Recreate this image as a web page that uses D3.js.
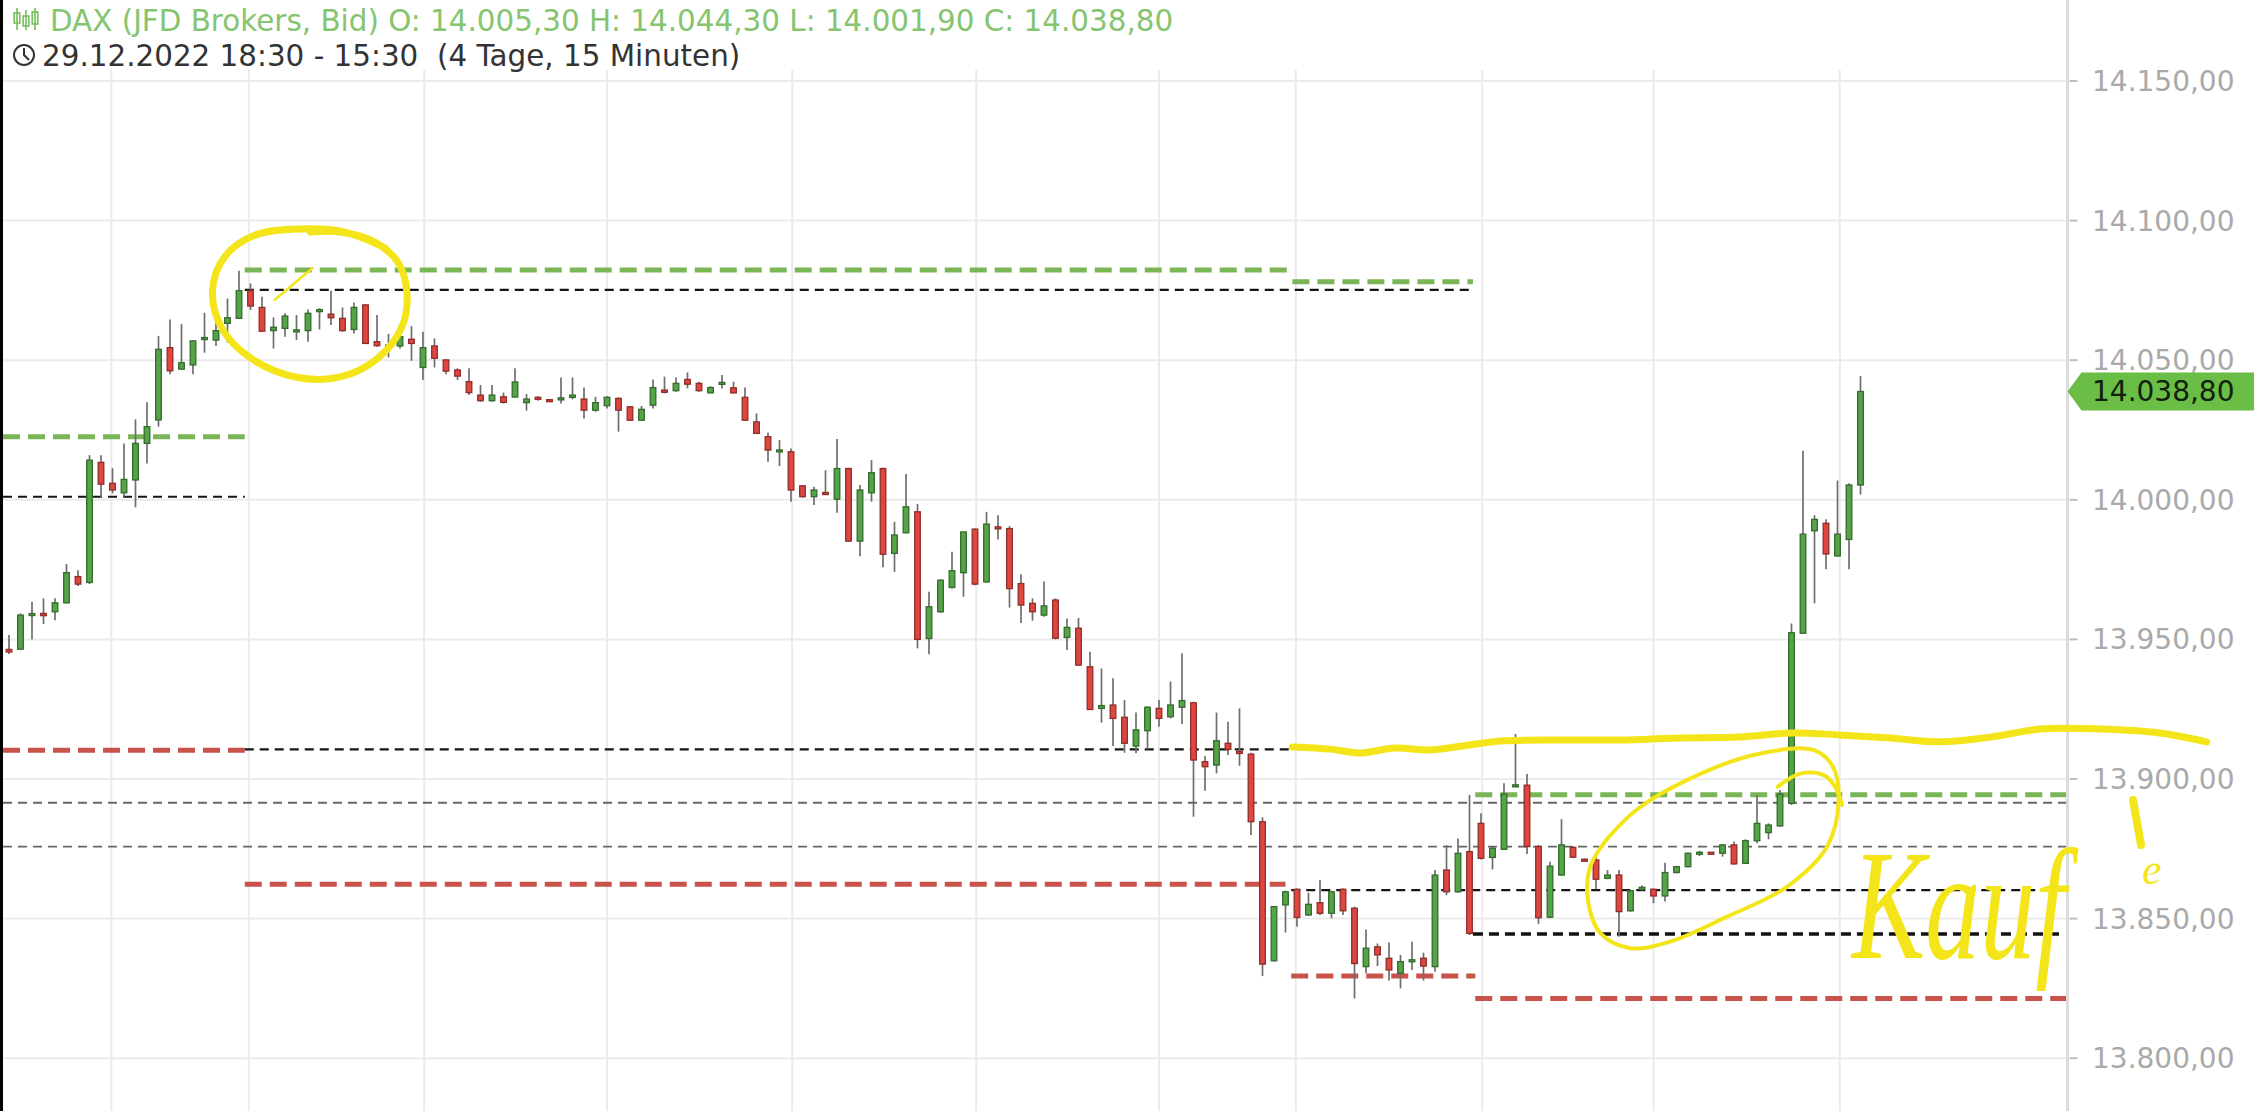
<!DOCTYPE html>
<html><head><meta charset="utf-8">
<script src="https://cdn.jsdelivr.net/npm/d3@7"></script>
<style>html,body{margin:0;padding:0;background:#fff;overflow:hidden}</style>
</head><body>
<svg id="c" width="2254" height="1111"></svg>
<script>
// ---------- data ----------
const opens=[13946.4,13946.5,13958.6,13959.3,13959.9,13963.1,13972.5,13970.4,14013.4,14005.9,14002.5,14007.1,14020.2,14028.6,14054.5,14046.8,14048.3,14057.6,14057.2,14063.2,14065.0,14074.9,14068.9,14060.6,14061.4,14060.4,14060.6,14067.5,14066.5,14065.0,14061.0,14069.8,14056.6,14054.2,14055.1,14057.5,14047.4,14055.1,14050.1,14046.5,14042.3,14037.5,14035.5,14036.9,14036.8,14034.8,14036.7,14035.6,14036.1,14036.7,14036.1,14032.1,14033.7,14036.3,14033.3,14028.5,14033.9,14039.3,14039.1,14043.1,14041.7,14038.3,14041.6,14040.1,14036.7,14027.9,14022.6,14017.2,14017.2,14005.0,14001.1,14002.6,14000.2,14011.2,13985.2,14002.5,14011.2,13980.8,13988.2,13995.7,13950.3,13959.9,13968.6,13973.9,13989.5,13970.6,13990.3,13989.7,13970.0,13962.9,13958.7,13964.1,13950.7,13954.0,13940.2,13925.3,13926.5,13922.1,13911.8,13917.3,13925.3,13922.3,13925.7,13927.3,13906.2,13905.0,13912.8,13909.8,13908.9,13884.7,13834.9,13854.9,13860.5,13851.3,13855.7,13851.9,13860.5,13853.7,13832.8,13839.9,13835.8,13830.4,13834.6,13835.8,13832.8,13867.4,13859.6,13874.0,13884.1,13871.9,13874.8,13897.5,13897.8,13875.8,13850.5,13865.6,13875.5,13871.2,13871.0,13864.4,13865.6,13852.8,13860.7,13860.5,13858.1,13866.5,13868.6,13873.3,13873.5,13873.4,13876.4,13869.8,13877.9,13880.8,13883.2,13891.3,13952.2,13988.9,13991.6,13979.9,13985.8,14005.3];
const highs=[13951.6,13959.3,13963.5,13964.7,13964.7,13977.0,13974.8,14016.0,14016.0,14011.3,14020.2,14028.8,14034.9,14058.7,14064.6,14063.0,14057.2,14067.0,14066.2,14072.1,14082.0,14077.5,14072.7,14065.3,14066.8,14066.2,14068.2,14068.6,14074.9,14068.9,14070.7,14070.1,14066.2,14059.4,14062.0,14062.2,14060.2,14057.8,14050.3,14047.1,14047.1,14041.1,14041.1,14038.4,14047.1,14037.9,14037.1,14035.9,14043.8,14043.8,14040.2,14036.9,14037.1,14036.7,14033.6,14033.6,14043.1,14044.1,14043.8,14045.6,14042.3,14040.7,14044.7,14042.3,14040.2,14030.9,14024.1,14021.4,14018.4,14005.3,14004.7,14010.6,14021.8,14011.5,14005.3,14014.2,14011.5,13992.1,14009.2,13998.5,13967.1,13971.5,13981.4,13988.5,13989.7,13995.7,13994.5,13990.6,13973.3,13964.7,13970.7,13964.7,13957.5,13957.7,13945.6,13939.6,13936.1,13928.3,13923.8,13926.1,13928.3,13934.9,13945.0,13927.7,13908.2,13923.8,13920.5,13925.3,13909.4,13886.3,13854.5,13860.0,13860.8,13859.3,13863.8,13860.0,13860.8,13854.3,13846.1,13841.1,13841.4,13837.0,13841.7,13837.8,13867.4,13876.3,13878.7,13894.3,13887.7,13875.8,13898.5,13916.1,13901.8,13876.4,13870.4,13885.6,13876.0,13871.6,13872.4,13867.4,13867.4,13860.3,13861.9,13860.8,13870.0,13868.9,13873.6,13874.3,13873.8,13876.7,13877.6,13878.4,13894.3,13884.1,13896.1,13955.7,14017.6,13994.5,13993.0,14006.9,14005.9,14044.3];
const lows=[13944.8,13946.2,13950.0,13955.5,13956.9,13962.9,13969.1,13969.8,14000.9,14002.3,14001.1,13997.3,14013.0,14026.2,14045.0,14046.7,14045.0,14052.7,14055.1,14056.3,14065.0,14068.0,14060.2,14054.2,14058.4,14057.2,14056.6,14061.0,14062.6,14060.2,14059.6,14055.8,14054.8,14051.0,14054.2,14049.8,14042.9,14047.4,14045.0,14042.9,14037.5,14035.1,14035.1,14034.5,14036.7,14031.9,14035.5,14035.1,14034.5,14036.0,14029.1,14031.5,14032.7,14024.4,14028.3,14028.3,14032.7,14038.1,14038.7,14039.9,14038.7,14038.1,14039.9,14038.1,14028.3,14023.5,14013.6,14012.1,13999.3,14000.8,13998.1,14001.7,13995.4,13985.0,13979.8,13999.3,13975.8,13974.2,13988.0,13946.8,13944.7,13959.5,13968.2,13965.3,13969.4,13970.3,13985.8,13961.4,13955.9,13956.7,13958.1,13950.0,13946.2,13940.5,13924.7,13920.2,13911.8,13909.4,13909.2,13910.6,13918.7,13921.7,13919.7,13886.5,13895.8,13902.0,13908.6,13904.7,13879.9,13829.4,13834.6,13845.0,13847.1,13850.9,13851.3,13850.1,13851.3,13821.4,13830.4,13833.0,13827.8,13825.0,13831.6,13827.8,13831.0,13858.4,13859.3,13844.1,13871.2,13867.6,13874.6,13897.0,13873.1,13848.1,13850.1,13865.4,13871.6,13870.3,13860.5,13864.1,13843.5,13852.5,13860.0,13855.5,13856.1,13866.2,13868.4,13872.4,13872.9,13872.2,13869.3,13869.6,13877.0,13878.4,13882.9,13890.7,13951.9,13962.9,13975.1,13979.6,13975.1,14001.9];
const closes=[13945.5,13958.7,13959.2,13958.5,13963.1,13973.9,13969.8,14014.2,14005.6,14003.5,14007.3,14020.2,14026.2,14053.9,14046.2,14049.1,14056.9,14057.9,14060.6,14065.2,14074.9,14069.4,14060.4,14061.8,14065.8,14060.6,14066.8,14068.0,14065.2,14060.6,14068.9,14056.0,14055.2,14055.4,14058.4,14056.0,14054.5,14050.7,14046.1,14044.3,14038.4,14035.5,14037.5,14034.9,14042.2,14036.1,14036.0,14035.4,14036.2,14037.5,14032.1,14034.8,14036.7,14032.1,14028.5,14032.4,14040.2,14038.5,14041.7,14041.4,14039.1,14040.2,14041.8,14038.3,14028.5,14023.8,14017.8,14017.8,14003.5,14001.1,14003.5,14001.9,14011.2,13985.2,14003.5,14009.7,13980.5,13987.4,13997.5,13950.0,13961.7,13971.2,13974.6,13988.5,13969.8,13991.3,13989.6,13968.2,13962.3,13959.9,13962.0,13950.4,13954.3,13940.8,13924.9,13926.3,13921.7,13912.8,13917.6,13925.7,13921.7,13926.5,13928.1,13906.8,13904.4,13913.7,13910.6,13909.2,13884.7,13833.7,13854.3,13859.6,13850.4,13855.1,13851.9,13859.6,13852.8,13833.9,13839.4,13837.0,13831.6,13834.6,13835.2,13833.0,13865.6,13859.6,13873.4,13844.7,13871.6,13875.2,13894.6,13897.6,13875.8,13850.3,13868.8,13876.4,13872.0,13870.6,13864.1,13865.6,13852.5,13860.0,13861.0,13858.1,13866.5,13868.6,13873.4,13873.5,13873.3,13876.4,13869.6,13877.9,13884.1,13883.5,13894.6,13952.4,13987.7,13993.0,13980.6,13987.7,14005.3,14038.8];

const yTicks=[13800,13850,13900,13950,14000,14050,14100,14150];
const yTickLabels=["13.800,00","13.850,00","13.900,00","13.950,00","14.000,00","14.050,00","14.100,00","14.150,00"];
const timeGrid=[8.9,20.85,36.1,52,68.1,84.1,100,111.9,128.1,143,159.2];

// horizontal levels: price, from (candle index), to (candle index), kind
const levelPrices=[14022.6,14001.1,14082.3,14078.1,14075.2,13910.3,13910.6,13891.5,13875.8,13862.3,13894.4,13860.2,13844.5,13829.4,13821.4];
const levelFrom=[-0.52,-0.52,20.5,111.6,20.5,-0.52,20.5,-0.52,-0.52,20.5,127.5,111.5,127.3,111.5,127.5];
const levelTo=[20.5,20.5,111.4,127.3,127.3,20.5,111.5,179,179,111.0,179,178.2,178.5,127.5,179];
const levelKind=["green","black","green","green","black","red","black","grey","grey","red","green","black","blackThick","red","red"];

const lastPrice=14038.8, lastLabel="14.038,80";
const titleText="DAX (JFD Brokers, Bid) O: 14.005,30 H: 14.044,30 L: 14.001,90 C: 14.038,80";
const subText="29.12.2022 18:30 - 15:30  (4 Tage, 15 Minuten)";

// hand-drawn annotations in (candle index, price)
const circleTop=[[32.7,14090.2],[29.2,14095.9],[25.3,14097.0],[21.4,14094.8],[18.8,14087.3],[17.7,14075.1],[18.5,14061.5],[21.0,14050.8],[24.9,14044.0],[28.8,14044.0],[32.1,14050.8],[34.2,14062.3],[34.6,14074.4],[33.8,14085.2],[31.8,14092.3],[28.8,14095.9],[26.2,14095.9]];
const circleTail=[[26.4,14083.0],[24.8,14077.5],[23.1,14071.6]];
const wavyLine=[[111.6,13911.5],[114.9,13910.7],[117.5,13909.3],[120.5,13911.1],[123.6,13910.4],[127.0,13912.2],[129.7,13913.6],[134.9,13914.0],[140.1,13914.0],[145.3,13914.7],[150.5,13915.0],[155.0,13916.5],[159.2,13915.8],[163.6,13914.7],[167.9,13913.3],[172.3,13915.0],[176.6,13917.9],[181.8,13917.9],[187.0,13916.5],[191.1,13913.3]];
const ovalLoop=[[138.9,13878.2],[141.5,13888.9],[145.9,13899.6],[151.7,13908.6],[156.9,13910.4],[158.6,13904.4],[159.1,13892.5],[158.1,13875.8],[154.6,13861.4],[149.4,13850.7],[144.4,13841.7],[141.0,13839.4],[138.4,13844.7],[137.3,13856.7],[137.5,13868.6],[138.9,13878.2]];
const ovalHook=[[153.8,13897.2],[155.8,13902.0],[157.8,13901.4],[158.8,13897.2],[159.4,13890.7]];
const noteWord="Kauf", noteE="e";

// ---------- drawing ----------
const W=2254,H=1111;
const svg=d3.select("#c");
const x=d3.scaleLinear().domain([0,161]).range([9,9+161*11.5]);
const y=d3.scaleLinear().domain([13800,14150]).range([1058.2,81]);
const axisX=x(179);

svg.append("rect").attr("width",W).attr("height",H).attr("fill","#fff");

// grid
const grid=svg.append("g");
grid.selectAll("line.h").data(yTicks).join("line")
  .attr("x1",0).attr("x2",axisX).attr("y1",d=>y(d)).attr("y2",d=>y(d))
  .attr("stroke","#ebebeb").attr("stroke-width",2);
grid.selectAll("line.v").data(timeGrid).join("line")
  .attr("x1",d=>x(d)).attr("x2",d=>x(d)).attr("y1",70).attr("y2",H)
  .attr("stroke","#ebebeb").attr("stroke-width",2);

// levels
const styles={
  green:{c:"#7ab556",w:5,d:"17,8"},
  red:{c:"#c9534b",w:5,d:"17,8"},
  black:{c:"#151515",w:2.2,d:"9,6"},
  blackThick:{c:"#111",w:3.4,d:"10,6"},
  grey:{c:"#666",w:1.8,d:"9,6"}
};
svg.append("g").selectAll("line").data(levelPrices.map((p,i)=>i)).join("line")
  .attr("x1",i=>x(levelFrom[i])).attr("x2",i=>x(levelTo[i]))
  .attr("y1",i=>y(levelPrices[i])).attr("y2",i=>y(levelPrices[i]))
  .attr("stroke",i=>styles[levelKind[i]].c)
  .attr("stroke-width",i=>styles[levelKind[i]].w)
  .attr("stroke-dasharray",i=>styles[levelKind[i]].d);

// candles
const idx=d3.range(opens.length);
const cg=svg.append("g");
cg.selectAll("line").data(idx).join("line")
  .attr("x1",i=>x(i)).attr("x2",i=>x(i))
  .attr("y1",i=>y(highs[i])).attr("y2",i=>y(lows[i]))
  .attr("stroke","#6e6e6e").attr("stroke-width",1.7);
const bw=5.6;
cg.selectAll("rect").data(idx).join("rect")
  .attr("x",i=>x(i)-bw/2)
  .attr("y",i=>{const a=y(opens[i]),b=y(closes[i]);const h=Math.abs(a-b);return Math.min(a,b)-(h<2?(2-h)/2:0);})
  .attr("width",bw)
  .attr("height",i=>Math.max(2,Math.abs(y(opens[i])-y(closes[i]))))
  .attr("fill",i=>closes[i]>=opens[i]?"#55a447":"#df4640")
  .attr("stroke",i=>closes[i]>=opens[i]?"#346b2d":"#8f2d29")
  .attr("stroke-width",1.3);

// y axis
svg.append("line").attr("x1",axisX).attr("x2",axisX).attr("y1",0).attr("y2",H)
  .attr("stroke","#dcdcdc").attr("stroke-width",3);
const ax=svg.append("g");
ax.selectAll("line").data(yTicks).join("line")
  .attr("x1",axisX+2).attr("x2",axisX+10).attr("y1",d=>y(d)).attr("y2",d=>y(d))
  .attr("stroke","#bdbdbd").attr("stroke-width",2);
ax.selectAll("text").data(yTicks).join("text")
  .attr("x",2092).attr("y",d=>y(d)+10)
  .attr("font-family","DejaVu Sans").attr("font-size",28).attr("fill","#a9a9a9")
  .text((d,i)=>yTickLabels[i]);

// last price label
const yp=y(lastPrice);
svg.append("path")
  .attr("d",`M${axisX},${yp} L${axisX+14},${yp-19} L${W},${yp-19} L${W},${yp+19} L${axisX+14},${yp+19} Z`)
  .attr("fill","#6abd45");
svg.append("text").attr("x",2092).attr("y",yp+10)
  .attr("font-family","DejaVu Sans").attr("font-size",28).attr("fill","#10200c")
  .text(lastLabel);

// header
svg.append("rect").attr("x",0).attr("y",0).attr("width",1300).attr("height",70).attr("fill","#fff");
const ic=svg.append("g").attr("stroke","#7dbf66").attr("fill","#7dbf66");
[[17,8,30,13,21],[26,10,30,16,24],[35,8,30,12,22]].forEach(d=>{
  ic.append("line").attr("x1",d[0]).attr("x2",d[0]).attr("y1",d[1]).attr("y2",d[2]).attr("stroke-width",1.7);
  ic.append("rect").attr("x",d[0]-2.8).attr("y",d[3]).attr("width",5.6).attr("height",d[4]-d[3]+2).attr("fill","none").attr("stroke-width",1.7);
});
svg.append("text").attr("x",50).attr("y",31)
  .attr("font-family","DejaVu Sans").attr("font-size",29.4).attr("fill","#86c46f").text(titleText);
svg.append("circle").attr("cx",24).attr("cy",55).attr("r",10).attr("fill","none").attr("stroke","#333").attr("stroke-width",2);
svg.append("path").attr("d","M24,48 L24,55 L29,60").attr("fill","none").attr("stroke","#333").attr("stroke-width",2);
svg.append("text").attr("x",42).attr("y",66).style("white-space","pre")
  .attr("font-family","DejaVu Sans").attr("font-size",29.4).attr("fill","#333").text(subText);

// left black strip
svg.append("rect").attr("x",0).attr("y",0).attr("width",3).attr("height",H).attr("fill","#000");

// yellow annotations
const yel="#f4e51b";
const ln=d3.line().x(d=>x(d[0])).y(d=>y(d[1])).curve(d3.curveCatmullRom);
const an=svg.append("g").attr("fill","none").attr("stroke",yel).attr("stroke-linecap","round").attr("stroke-linejoin","round");
an.append("path").attr("d",ln(circleTop)).attr("stroke-width",7);
an.append("path").attr("d",ln(circleTail)).attr("stroke-width",2.5);
an.append("path").attr("d",ln(wavyLine)).attr("stroke-width",7);
an.append("path").attr("d",ln(ovalLoop)).attr("stroke-width",4);
an.append("path").attr("d",ln(ovalHook)).attr("stroke-width",4);
svg.append("text").attr("transform","translate(1852,958) scale(1,1.42)")
  .attr("font-family","Liberation Serif").attr("font-style","italic").attr("font-size",110)
  .attr("fill",yel).text(noteWord);
svg.append("text").attr("x",2142).attr("y",884)
  .attr("font-family","Liberation Serif").attr("font-style","italic").attr("font-size",44)
  .attr("fill",yel).text(noteE);
svg.append("path").attr("d",`M2133,800 L2141,845`).attr("stroke",yel).attr("stroke-width",8).attr("stroke-linecap","round");
</script>
</body></html>
